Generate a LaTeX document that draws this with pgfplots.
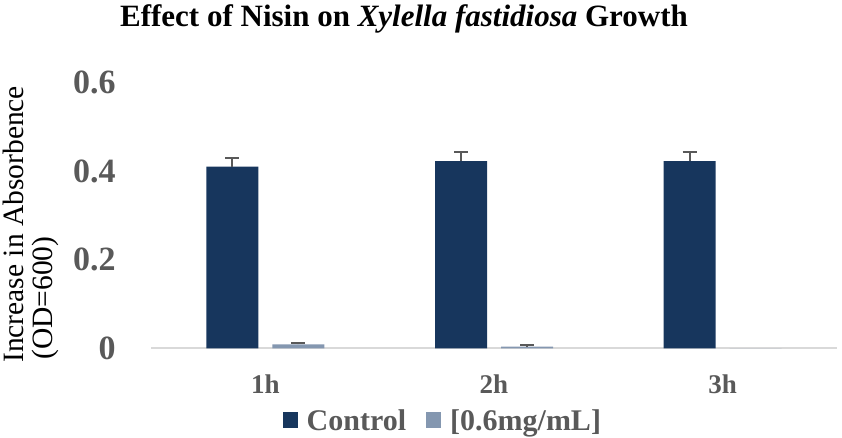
\documentclass[border=0pt]{standalone}
\usepackage{pgfplots}
\pgfplotsset{compat=1.18}
\usepackage{fontspec}
\setmainfont{Liberation Serif}
\definecolor{ctrl}{HTML}{17365D}
\definecolor{trt}{HTML}{8497B0}
\definecolor{tickgray}{HTML}{595959}
\definecolor{axisgray}{HTML}{D9D9D9}
\begin{document}
\begin{tikzpicture}
\useasboundingbox (0,0) rectangle (842pt,437pt);
\begin{axis}[
  at={(151pt,88.7pt)}, anchor=south west,
  scale only axis, width=686pt, height=266pt,
  xmin=-0.5, xmax=2.5, ymin=0, ymax=0.6,
  ybar=0pt, bar width=52pt,
  axis x line=bottom, axis y line=left,
  x axis line style={draw=axisgray, line width=2pt, -},
  y axis line style={draw=none},
  tick style={draw=none},
  ytick={0,0.2,0.4,0.6}, yticklabels={0,0.2,0.4,0.6},
  yticklabel style={font=\fontsize{34}{40}\selectfont\bfseries, text=tickgray, anchor=east, inner sep=0pt, xshift=-33pt},
  xtick={0,1,2}, xticklabels={1h,2h,3h},
  xticklabel style={font=\fontsize{27}{30}\selectfont\bfseries, text=tickgray, anchor=north, inner sep=0pt, yshift=-24pt},
  clip=false,
  legend style={at={(axis description cs:0.424,-0.271)}, anchor=center, draw=none, fill=none,
    font=\fontsize{30}{34}\selectfont\bfseries, text=tickgray, legend columns=2,
    nodes={inner sep=0pt},
    /tikz/every odd column/.append style={column sep=9pt},
    /tikz/every even column/.append style={column sep=20pt}},
  legend image code/.code={\path[#1, draw=none] (0pt,-8pt) rectangle (15pt,8pt);},
]
\addplot[bar shift=-33pt, fill=ctrl, draw=none,
  error bars/.cd, y dir=plus, y explicit,
  error bar style={line width=2pt, tickgray},
  error mark options={rotate=90, mark size=7pt, line width=2pt, tickgray}]
  coordinates {(0,0.41) +- (0,0.02) (1,0.422) +- (0,0.02) (2,0.422) +- (0,0.02)};
\addlegendentry{Control}
\addplot[bar shift=33pt, fill=trt, draw=none,
  error bars/.cd, y dir=plus, y explicit,
  error bar style={line width=2pt, tickgray},
  error mark options={rotate=90, mark size=7pt, line width=2pt, tickgray}]
  coordinates {(0,0.009) +- (0,0.003) (1,0.004) +- (0,0.003)};
\addlegendentry{[0.6mg/mL]}
\addplot[bar shift=33pt, fill=trt, draw=none, forget plot]
  coordinates {(2,0)};
\end{axis}
\node[anchor=base, inner sep=0pt, font=\fontsize{31}{34}\selectfont\bfseries] at (404pt,410pt)
  {Effect of Nisin on \textit{Xylella fastidiosa} Growth};
\node[rotate=90, anchor=base west, inner sep=0pt, font=\fontsize{29.5}{30}\selectfont] at (23pt,74pt)
  {Increase in Absorbence};
\node[rotate=90, anchor=base west, inner sep=0pt, font=\fontsize{29.5}{30}\selectfont] at (52.5pt,77pt)
  {(OD=600)};
\end{tikzpicture}
\end{document}
